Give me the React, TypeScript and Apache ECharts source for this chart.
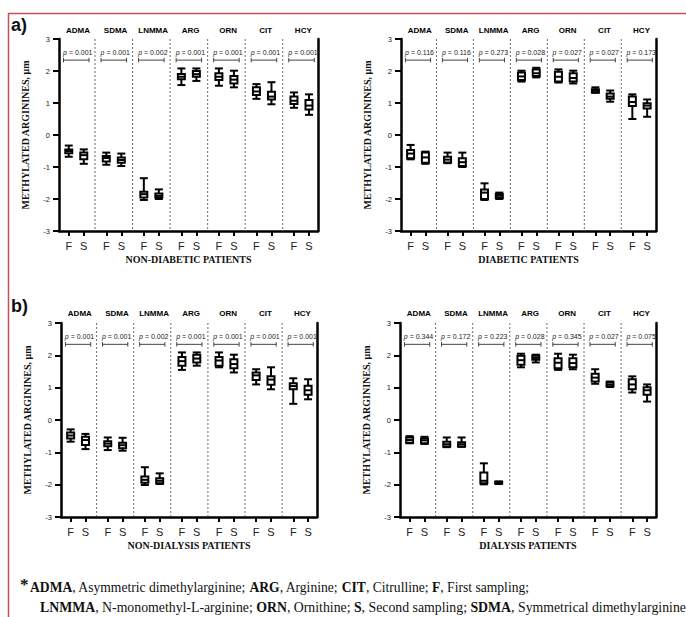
import React, { useEffect, useRef } from 'react';
import * as echarts from 'echarts';

const groups = ['ADMA', 'SDMA', 'LNMMA', 'ARG', 'ORN', 'CIT', 'HCY'];
const samplings = ['F', 'S'];

// Each box: [min, q1, median, q3, max]; order ADMA F, ADMA S, SDMA F, SDMA S, ...
const nonDiabetic = [
  [-0.68, -0.57, -0.5, -0.45, -0.33], [-0.9, -0.76, -0.63, -0.55, -0.45],
  [-0.93, -0.83, -0.72, -0.66, -0.55], [-0.97, -0.87, -0.78, -0.7, -0.58],
  [-2.03, -1.95, -1.85, -1.77, -1.35], [-2.0, -1.95, -1.9, -1.83, -1.7],
  [1.56, 1.74, 1.82, 1.91, 2.08], [1.69, 1.82, 1.9, 2.0, 2.08],
  [1.54, 1.72, 1.82, 1.93, 2.08], [1.49, 1.61, 1.73, 1.84, 2.01],
  [1.13, 1.25, 1.36, 1.49, 1.59], [0.96, 1.11, 1.2, 1.35, 1.65],
  [0.85, 0.97, 1.07, 1.2, 1.33], [0.63, 0.8, 0.92, 1.09, 1.27],
];
const diabetic = [
  [-0.76, -0.73, -0.58, -0.47, -0.31], [-0.9, -0.87, -0.7, -0.55, -0.52],
  [-0.88, -0.86, -0.77, -0.68, -0.55], [-1.0, -0.97, -0.85, -0.73, -0.55],
  [-2.03, -2.0, -1.8, -1.7, -1.51], [-2.0, -1.97, -1.9, -1.84, -1.8],
  [1.67, 1.72, 1.83, 1.95, 2.01], [1.8, 1.84, 1.93, 2.05, 2.1],
  [1.64, 1.67, 1.82, 1.98, 2.05], [1.61, 1.67, 1.78, 1.93, 2.01],
  [1.32, 1.33, 1.38, 1.43, 1.49], [1.04, 1.13, 1.2, 1.3, 1.39],
  [0.5, 0.91, 1.03, 1.2, 1.27], [0.57, 0.83, 0.92, 0.99, 1.11],
];
const nonDialysis = [
  [-0.67, -0.57, -0.48, -0.39, -0.29], [-0.9, -0.77, -0.62, -0.52, -0.43],
  [-0.93, -0.81, -0.73, -0.66, -0.54], [-0.95, -0.87, -0.78, -0.7, -0.55],
  [-2.01, -1.94, -1.85, -1.75, -1.46], [-1.98, -1.96, -1.88, -1.8, -1.65],
  [1.55, 1.68, 1.82, 1.95, 2.09], [1.68, 1.78, 1.9, 2.02, 2.09],
  [1.63, 1.68, 1.84, 1.95, 2.09], [1.47, 1.6, 1.73, 1.88, 2.02],
  [1.1, 1.24, 1.38, 1.47, 1.57], [0.95, 1.09, 1.25, 1.35, 1.63],
  [0.5, 0.95, 1.05, 1.14, 1.29], [0.64, 0.78, 0.92, 1.06, 1.26],
];
const dialysis = [
  [-0.72, -0.7, -0.62, -0.54, -0.5], [-0.74, -0.72, -0.63, -0.57, -0.52],
  [-0.84, -0.82, -0.75, -0.67, -0.54], [-0.83, -0.82, -0.75, -0.69, -0.54],
  [-1.99, -1.96, -1.88, -1.62, -1.34], [-1.98, -1.96, -1.93, -1.91, -1.9],
  [1.63, 1.71, 1.85, 1.99, 2.05], [1.78, 1.86, 1.92, 1.99, 2.02],
  [1.55, 1.6, 1.77, 1.91, 2.05], [1.57, 1.63, 1.76, 1.91, 2.02],
  [1.12, 1.19, 1.31, 1.43, 1.57], [1.02, 1.04, 1.1, 1.17, 1.19],
  [0.85, 0.95, 1.1, 1.26, 1.35], [0.57, 0.78, 0.92, 1.01, 1.1],
];

const pNonDiabetic = ['0.001', '0.001', '0.002', '0.001', '0.001', '0.001', '0.001'];
const pDiabetic = ['0.116', '0.116', '0.273', '0.028', '0.027', '0.027', '0.173'];
const pNonDialysis = ['0.001', '0.001', '0.002', '0.001', '0.001', '0.001', '0.001'];
const pDialysis = ['0.344', '0.172', '0.223', '0.028', '0.345', '0.027', '0.075'];

const titles = ['NON-DIABETIC PATIENTS', 'DIABETIC PATIENTS', 'NON-DIALYSIS PATIENTS', 'DIALYSIS PATIENTS'];
const yTitle = 'METHYLATED ARGININES, μm';

const footLine1 = '{b|ADMA}, Asymmetric dimethylarginine; {b|ARG}, Arginine; {b|CIT}, Citrulline; {b|F}, First sampling;';
const footLine2 = '{b|LNMMA}, N-monomethyl-L-arginine; {b|ORN}, Ornithine; {b|S}, Second sampling; {b|SDMA}, Symmetrical dimethylarginine';

const GROUP_STEP = 2.5;
const posOf = (j: number) => GROUP_STEP * Math.floor(j / 2) + (j % 2);
const fsPositions = groups.flatMap((_, i) => samplings.map((_, k) => GROUP_STEP * i + k));

const panels = [
  { data: nonDiabetic, p: pNonDiabetic, grid: { left: 59, top: 39, width: 259, height: 192 } },
  { data: diabetic, p: pDiabetic, grid: { left: 401, top: 39, width: 255, height: 192 } },
  { data: nonDialysis, p: pNonDialysis, grid: { left: 61, top: 323, width: 256, height: 194 } },
  { data: dialysis, p: pDialysis, grid: { left: 400, top: 323, width: 256, height: 194 } },
];

const SANS = '"Liberation Sans", Arial, sans-serif';
const SERIF = '"Liberation Serif", "Times New Roman", serif';

function buildOption() {
  const grid: any[] = [];
  const xAxis: any[] = [];
  const yAxis: any[] = [];
  const series: any[] = [];
  panels.forEach((pn, k) => {
    grid.push({ ...pn.grid, containLabel: false });
    xAxis.push({
      type: 'value', gridIndex: k, min: -0.65, max: 16.6,
      axisLine: { show: true, onZero: false, lineStyle: { color: '#000', width: 2.5 } },
      axisTick: { show: true, customValues: fsPositions, length: 5, lineStyle: { color: '#000', width: 2 } },
      axisLabel: {
        customValues: fsPositions, margin: 9, fontSize: 11, fontFamily: SANS, color: '#222',
        formatter: (v: number) => samplings[Math.round(v * 2) % 5 === 0 ? 0 : 1],
      },
      splitLine: { show: false },
      name: titles[k], nameLocation: 'middle', nameGap: 23,
      nameTextStyle: { fontFamily: SERIF, fontWeight: 'bold', fontSize: 10, color: '#111' },
    });
    yAxis.push({
      type: 'value', gridIndex: k, min: -3, max: 3, interval: 1,
      axisLine: { show: true, onZero: false, lineStyle: { color: '#000', width: 2.5 } },
      axisTick: { show: true, length: 6, lineStyle: { color: '#000', width: 2 } },
      axisLabel: { show: true, fontSize: 7.5, color: '#222', margin: 9, fontFamily: SANS },
      splitLine: { show: false },
      name: yTitle, nameLocation: 'middle', nameGap: 29,
      nameTextStyle: { fontFamily: SERIF, fontWeight: 'bold', fontSize: 10, color: '#111' },
    });
    yAxis.push({
      type: 'value', gridIndex: k, position: 'right', min: -3, max: 3,
      axisLine: { show: true, onZero: false, lineStyle: { color: '#000', width: 2.5 } },
      axisTick: { show: false }, axisLabel: { show: false }, splitLine: { show: false },
    });
    const pv = pn.p;
    series.push({
      type: 'custom', xAxisIndex: k, yAxisIndex: 2 * k, clip: false, silent: true,
      itemStyle: { color: '#333' },
      data: groups.map((_, i) => [GROUP_STEP * i + 0.5, 0]),
      renderItem: (params: any, api: any) => {
        const i = params.dataIndex;
        const cx = api.value(0);
        const children: any[] = [];
        const yTop = api.coord([cx, 3])[1];
        const yBot = api.coord([cx, -3])[1];
        if (i < groups.length - 1) {
          const sx = api.coord([cx + 1.25, 0])[0];
          children.push({ type: 'line', shape: { x1: sx, y1: yTop, x2: sx, y2: yBot },
            style: { stroke: '#444', lineWidth: 0.8, lineDash: [2, 2] } });
        }
        const h = api.coord([cx + 0.12, 3.28]);
        children.push({ type: 'text', x: h[0], y: h[1], style: {
          text: groups[i], fontSize: 8, fontWeight: 'bold', fontFamily: SANS, fill: '#000',
          align: 'center', verticalAlign: 'middle' } });
        const pt = api.coord([cx + 0.1, 2.59]);
        children.push({ type: 'text', x: pt[0], y: pt[1], style: {
          text: '{i|p}{n| = ' + pv[i] + '}', fontSize: 7, fontFamily: SANS, fill: '#222',
          align: 'center', verticalAlign: 'middle',
          rich: {
            i: { fontStyle: 'italic', fontSize: 7, fontFamily: SANS, fill: '#222' },
            n: { fontSize: 7, fontFamily: SANS, fill: '#222' },
          } } });
        const bl = api.coord([cx - 0.85, 2.34]);
        const br = api.coord([cx + 0.85, 2.34]);
        const tk = api.coord([cx, 2.41])[1];
        const tb = api.coord([cx, 2.27])[1];
        const bs = { stroke: '#444', lineWidth: 1 };
        children.push({ type: 'line', shape: { x1: bl[0], y1: bl[1], x2: br[0], y2: br[1] }, style: bs });
        children.push({ type: 'line', shape: { x1: bl[0], y1: tk, x2: bl[0], y2: tb }, style: bs });
        children.push({ type: 'line', shape: { x1: br[0], y1: tk, x2: br[0], y2: tb }, style: bs });
        return { type: 'group', children };
      },
    });
    series.push({
      type: 'custom', xAxisIndex: k, yAxisIndex: 2 * k, silent: true, clip: false,
      itemStyle: { color: '#000' },
      data: pn.data.map((b, j) => [posOf(j), ...b]),
      encode: { x: 0, y: [1, 2, 3, 4, 5] },
      renderItem: (params: any, api: any) => {
        const x = api.value(0);
        const ys = [1, 2, 3, 4, 5].map((d) => api.coord([x, api.value(d)])[1]);
        const cx = api.coord([x, 0])[0];
        const [yMin, yQ1, yMed, yQ3, yMax] = ys;
        const bw = 7, cw = 8;
        const st = { stroke: '#000', lineWidth: 2 };
        return {
          type: 'group',
          children: [
            { type: 'line', shape: { x1: cx, y1: yMax, x2: cx, y2: yQ3 }, style: st },
            { type: 'line', shape: { x1: cx, y1: yQ1, x2: cx, y2: yMin }, style: st },
            { type: 'line', shape: { x1: cx - cw / 2, y1: yMax, x2: cx + cw / 2, y2: yMax }, style: st },
            { type: 'line', shape: { x1: cx - cw / 2, y1: yMin, x2: cx + cw / 2, y2: yMin }, style: st },
            { type: 'rect', shape: { x: cx - bw / 2, y: yQ3, width: bw, height: Math.max(yQ1 - yQ3, 0.5) },
              style: { fill: '#fff', stroke: '#000', lineWidth: 2 } },
            { type: 'line', shape: { x1: cx - bw / 2, y1: yMed, x2: cx + bw / 2, y2: yMed }, style: st },
          ],
        };
      },
    });
  });

  const graphic: any[] = [
    { type: 'polyline', shape: { points: [[8.5, 620], [8.5, 13.5], [690, 13.5]] },
      style: { stroke: '#c4505c', lineWidth: 1.5, fill: 'none' }, silent: true },
    { type: 'text', left: 11, top: 16, style: { text: 'a)', fontSize: 18, fontWeight: 'bold', fontFamily: SANS, fill: '#111' } },
    { type: 'text', left: 11, top: 297, style: { text: 'b)', fontSize: 18, fontWeight: 'bold', fontFamily: SANS, fill: '#111' } },
    { type: 'text', x: 20, y: 584, style: { text: '*', fontSize: 17, fontWeight: 'bold', fontFamily: SERIF, fill: '#111', verticalAlign: 'middle' } },
    { type: 'text', x: 30, y: 587, style: { text: footLine1, fontSize: 13.6, fontFamily: SERIF, fill: '#111', verticalAlign: 'middle',
      rich: { b: { fontWeight: 'bold', fontSize: 13.6, fontFamily: SERIF, fill: '#111' } } } },
    { type: 'text', x: 40, y: 607, style: { text: footLine2, fontSize: 13.8, fontFamily: SERIF, fill: '#111', verticalAlign: 'middle',
      rich: { b: { fontWeight: 'bold', fontSize: 13.8, fontFamily: SERIF, fill: '#111' } } } },
  ];

  return { animation: false, backgroundColor: '#fff', grid, xAxis, yAxis, series, graphic };
}

export default function App() {
  const ref = useRef<HTMLDivElement>(null);
  useEffect(() => {
    if (!ref.current) return;
    const chart = echarts.init(ref.current, undefined, { renderer: 'svg' });
    chart.setOption(buildOption() as any);
    return () => chart.dispose();
  }, []);
  return <div ref={ref} style={{ position: 'absolute', left: 0, top: 0, width: 686, height: 617 }} />;
}
